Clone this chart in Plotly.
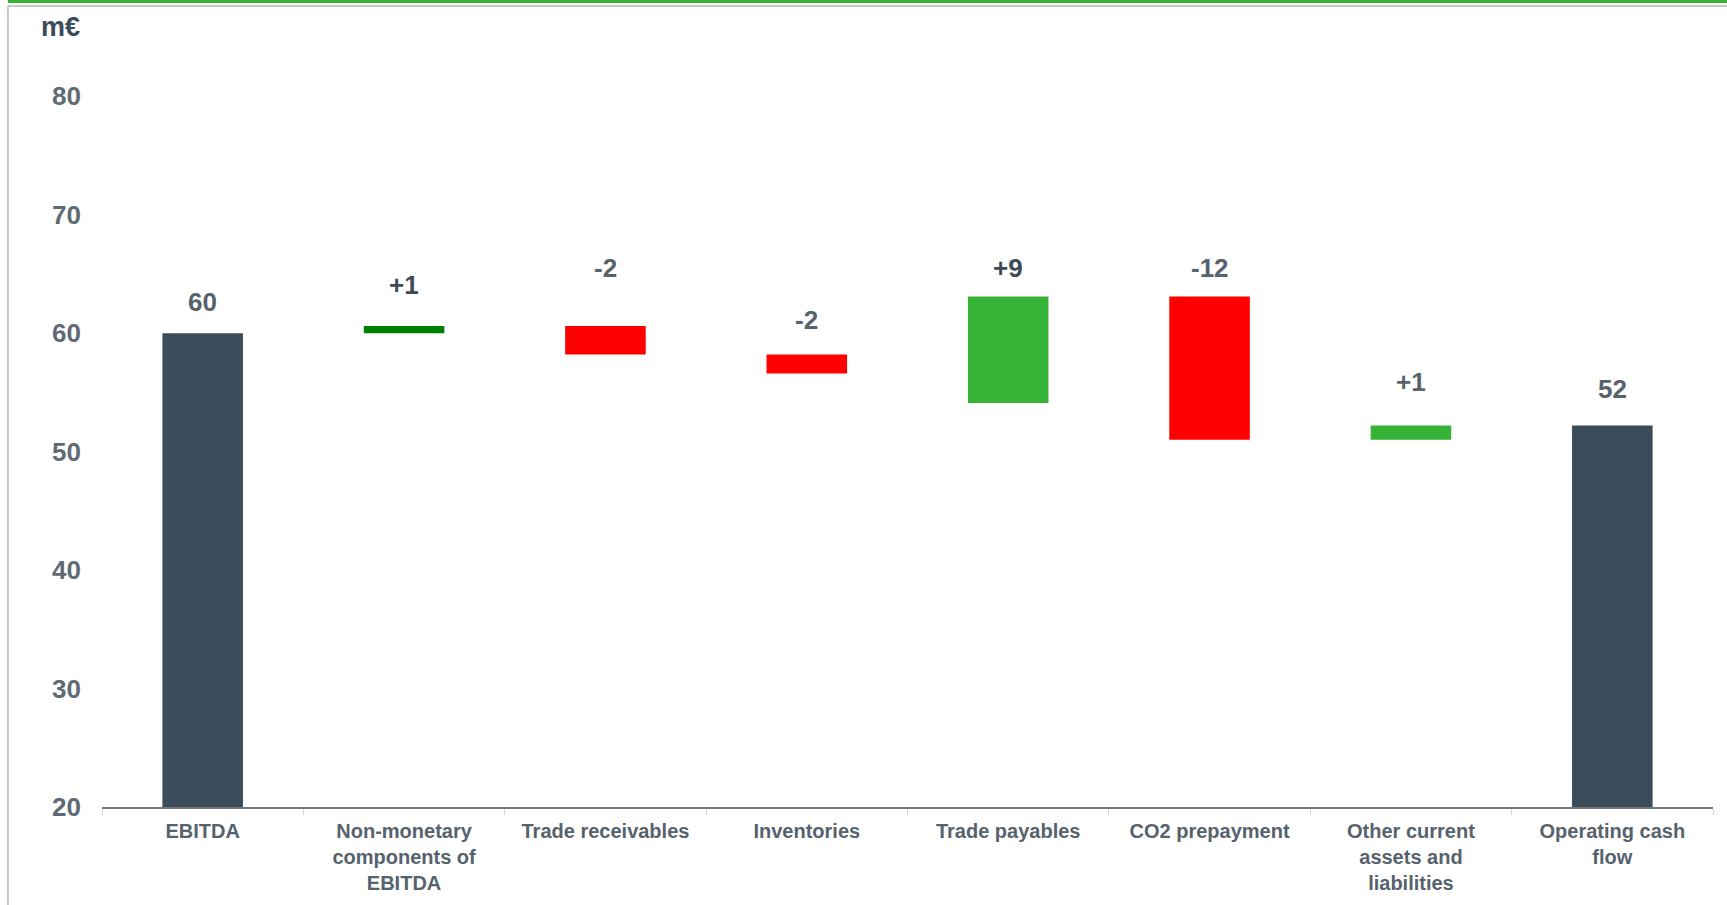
import plotly.graph_objects as go

# Operating cash flow bridge (m€)
categories = [
    "EBITDA",
    "Non-monetary<br>components of<br>EBITDA",
    "Trade receivables",
    "Inventories",
    "Trade payables",
    "CO2 prepayment",
    "Other current<br>assets and<br>liabilities",
    "Operating cash<br>flow",
]
# change per step (totals hold their full value)
change = [60, 0.6, -2.4, -1.6, 9, -12.1, 1.2, 52.2]
# running level after each step
closing = [60, 60.6, 58.2, 56.6, 63.1, 51.0, 52.2, 52.2]
kind = ["total", "up", "down", "down", "up", "down", "up", "total"]
y_ticks = [20, 30, 40, 50, 60, 70, 80]

# styling
colors = ["#3A4B59", "#008000", "#FF0000", "#FF0000", "#36B336", "#FF0000", "#36B336", "#3A4B59"]
label_gap_px = [31, 41, 58, 34, 28, 28, 44, 37]
label_colors = ["#56626C", "#3D4A56", "#56626C", "#56626C", "#3D4A56", "#56626C", "#56626C", "#56626C"]

base = [c - d for c, d in zip(closing, change)]
tops = [max(b, b + d) for b, d in zip(base, change)]
labels = [f"{d:.0f}" if k == "total" else f"{d:+.0f}" for d, k in zip(change, kind)]

FONT = "Liberation Sans, Arial, sans-serif"

fig = go.Figure(
    go.Bar(
        x=categories,
        y=change,
        base=base,
        marker=dict(color=colors, line=dict(width=0)),
        width=0.4,
        hoverinfo="skip",
    )
)

for cat, top, txt, gap, col in zip(categories, tops, labels, label_gap_px, label_colors):
    fig.add_annotation(
        x=cat, y=top, text=txt, showarrow=False,
        yanchor="middle", yshift=gap,
        font=dict(family=FONT, size=26, color=col, weight="bold"),
    )

# unit label
fig.add_annotation(
    xref="paper", yref="paper", x=-0.0255, y=1.0125, xanchor="center", yanchor="middle",
    text="m€", showarrow=False,
    font=dict(family=FONT, size=27, color="#3A4B59", weight="bold"),
)

# frame lines around the slide area
fig.add_shape(type="line", xref="paper", yref="paper", x0=-0.0584, x1=1.01, y0=1.0461, y1=1.0461,
              line=dict(color="#36B336", width=3))
fig.add_shape(type="line", xref="paper", yref="paper", x0=-0.0584, x1=1.01, y0=1.0402, y1=1.0402,
              line=dict(color="#C8C8C8", width=2))
fig.add_shape(type="line", xref="paper", yref="paper", x0=-0.0584, x1=-0.0584, y0=1.0402, y1=-0.13,
              line=dict(color="#C8C8C8", width=2))

fig.update_layout(
    width=1727,
    height=905,
    margin=dict(l=102, r=14, t=36.5, b=97.7),
    paper_bgcolor="white",
    plot_bgcolor="white",
    showlegend=False,
    bargap=0.6,
    font=dict(family=FONT),
    xaxis=dict(
        type="category",
        automargin=False,
        showline=True,
        linecolor="#6F7A83",
        linewidth=1.5,
        ticks="outside",
        tickson="boundaries",
        ticklen=6,
        tickcolor="#D3D6D9",
        tickwidth=1,
        showgrid=False,
        ticklabelstandoff=5,
        tickfont=dict(family=FONT, size=20, color="#56626C", weight="bold"),
        fixedrange=True,
    ),
    yaxis=dict(
        range=[20, 85],
        automargin=False,
        tickvals=y_ticks,
        showgrid=False,
        zeroline=False,
        showline=False,
        ticks="",
        ticklabelstandoff=20,
        tickfont=dict(family=FONT, size=26, color="#5F6B74", weight="bold"),
        fixedrange=True,
    ),
)

fig.write_html("out.html")
